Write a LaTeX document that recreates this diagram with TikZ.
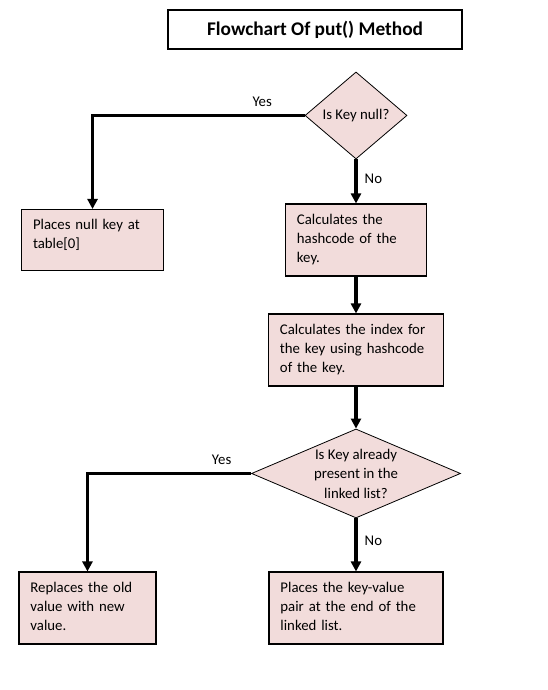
\documentclass[tikz,border=0pt]{standalone}
\usepackage{fontspec}
\setmainfont{Carlito}
\usepackage{xcolor}
\usepackage{tikz}
\usetikzlibrary{shapes.geometric, arrows.meta}

\definecolor{boxpink}{HTML}{F2DCDB}

\tikzset{
	heading/.style = {rectangle, draw, line width=0.9pt, minimum width=220.5pt, minimum height=29.25pt, font=\fontsize{14.5}{17}\selectfont\bfseries},
	block/.style = {rectangle, draw, line width=0.8pt, fill=boxpink, align=left, inner xsep=8.6pt, inner ysep=0pt, text height=15pt, text depth=39pt},
	decision/.style = {diamond, draw, line width=0.6pt, fill=boxpink, align=center, inner sep=0pt},
	line/.style = {draw, line width=2.4pt, -{Triangle[width=7.5pt, length=7.5pt]}}
}

\begin{document}
\begin{tikzpicture}[node distance = 1cm, auto, font=\fontsize{11.1}{14.6}\selectfont]
			\useasboundingbox (0pt,0pt) rectangle (411pt,-517.5pt);
			\node [heading] at (236.25pt,-22.1pt) (head) {Flowchart Of put() Method};
			\node [decision, shape aspect=1.17, minimum width=76.5pt, minimum height=65.25pt] at (267pt,-86.6pt) (nullkey) {Is Key null?};
			\node [block, below of = nullkey, node distance = 93.4pt, text width=88.55pt] (hashcode) {Calculates the\\hashcode of the\\key.};
			\node [block, left of = hashcode, node distance = 197.6pt, text width=89.3pt, text depth=30.75pt] (nullslot) {Places null key at\\table[0]};
			\node [block, below of = hashcode, node distance = 82.5pt, text width=114.05pt] (index) {Calculates the index for\\the key using hashcode\\of the key.};
			\node [decision, below of = index, node distance = 92.6pt, shape aspect=2.35, minimum width=156.75pt, minimum height=66.75pt] (inlist) {Is Key already\\present in the\\linked list?};
			\node [block, below of = inlist, node distance = 100.9pt, text width=113.3pt] (append) {Places the key-value\\pair at the end of the\\linked list.};
			\node [block, left of = append, node distance = 201.4pt, text width=85.55pt] (replace) {Replaces the old\\value with new\\value.};
			
			
			\path [line] (nullkey) -| node [pos=0.1, above=2pt] {Yes} (nullslot);
			\path [line] (nullkey) -- node [pos=0.45, right=2pt] {No} (hashcode);
			\path [line] (hashcode) -- (index);
			\path [line] (index) -- (inlist);
			\path [line] (inlist) -| node [pos=0.09, above=2pt] {Yes} (replace);
			\path [line] (inlist) -- node [pos=0.42, right=2pt] {No} (append);
		\end{tikzpicture}
\end{document}
